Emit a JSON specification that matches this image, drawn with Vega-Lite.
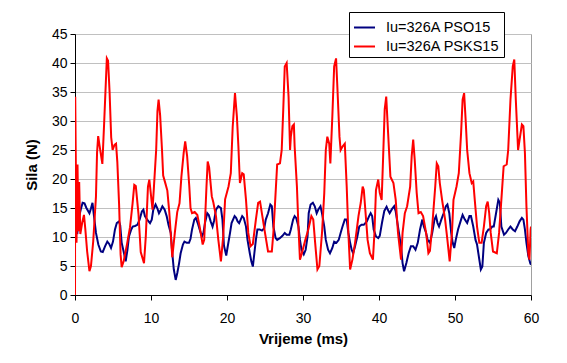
{
"$schema": "https://vega.github.io/schema/vega-lite/v6.json",
"width": 456, "height": 261,
"autosize": {"type": "none"},
"padding": {"left": 75, "top": 34, "right": 36, "bottom": 68},
"background": "white",
"config": {
 "font": "Liberation Sans",
 "view": {"stroke": "#a0a0a0", "strokeWidth": 1},
 "axis": {"domainColor": "black", "tickColor": "black", "labelColor": "black", "titleColor": "black", "labelFontSize": 14, "titleFontSize": 15, "titleFontWeight": "bold", "tickSize": 5, "gridColor": "#c0c0c0", "gridWidth": 1}
},
"datasets": {
 "blue": [
{"t":0.3,"v":10.5},{"t":0.45,"v":13},{"t":0.75,"v":14.7},{"t":1.0,"v":15.9},{"t":1.25,"v":15.8},{"t":1.5,"v":15},{"t":1.9,"v":14.1},{"t":2.1,"v":14.9},{"t":2.3,"v":15.9},{"t":2.5,"v":13.6},{"t":2.76,"v":10.7},{"t":3.07,"v":8.7},{"t":3.4,"v":7.5},{"t":3.65,"v":7.4},{"t":3.95,"v":8.4},{"t":4.25,"v":9.2},{"t":4.5,"v":8.8},{"t":4.74,"v":8.1},{"t":5.0,"v":9.2},{"t":5.26,"v":11.3},{"t":5.5,"v":12.4},{"t":5.8,"v":12.7},{"t":5.95,"v":12},{"t":6.14,"v":9},{"t":6.45,"v":7.2},{"t":6.67,"v":5.8},{"t":6.9,"v":7.8},{"t":7.1,"v":10.1},{"t":7.4,"v":11.3},{"t":7.6,"v":11.8},{"t":7.9,"v":11.9},{"t":8.2,"v":12.1},{"t":8.5,"v":13},{"t":8.8,"v":14.4},{"t":9.0,"v":14.7},{"t":9.2,"v":13.6},{"t":9.5,"v":13},{"t":9.87,"v":12.4},{"t":10.1,"v":13},{"t":10.3,"v":14.7},{"t":10.6,"v":15.6},{"t":10.85,"v":14.9},{"t":11.05,"v":14.1},{"t":11.3,"v":14.7},{"t":11.5,"v":15.3},{"t":11.8,"v":14.7},{"t":12.06,"v":13.6},{"t":12.3,"v":12.1},{"t":12.6,"v":10.7},{"t":12.8,"v":7.2},{"t":13.0,"v":4.4},{"t":13.25,"v":2.6},{"t":13.46,"v":3.8},{"t":13.7,"v":5.5},{"t":13.9,"v":7.2},{"t":14.2,"v":8.7},{"t":14.4,"v":9.2},{"t":14.7,"v":9},{"t":15.0,"v":9},{"t":15.2,"v":9.7},{"t":15.4,"v":11.3},{"t":15.7,"v":13},{"t":15.9,"v":13.3},{"t":16.15,"v":12.4},{"t":16.4,"v":11.3},{"t":16.7,"v":10.1},{"t":16.9,"v":10.7},{"t":17.1,"v":12.4},{"t":17.4,"v":14.1},{"t":17.6,"v":13.8},{"t":17.85,"v":12.7},{"t":18.1,"v":11.8},{"t":18.3,"v":12.8},{"t":18.55,"v":14.7},{"t":18.86,"v":15.3},{"t":19.2,"v":15},{"t":19.4,"v":13},{"t":19.6,"v":8.5},{"t":19.9,"v":6.8},{"t":20.1,"v":8.4},{"t":20.4,"v":10.7},{"t":20.6,"v":12.4},{"t":21.0,"v":13.6},{"t":21.2,"v":13.3},{"t":21.4,"v":12.7},{"t":21.6,"v":12.4},{"t":21.8,"v":13},{"t":22.0,"v":13.6},{"t":22.2,"v":13.3},{"t":22.5,"v":11.8},{"t":22.7,"v":9.5},{"t":23.0,"v":7.2},{"t":23.2,"v":5.8},{"t":23.4,"v":4.9},{"t":23.6,"v":7.2},{"t":23.8,"v":9.5},{"t":24.0,"v":11.3},{"t":24.3,"v":11.3},{"t":24.6,"v":11.1},{"t":24.9,"v":11.5},{"t":25.1,"v":13},{"t":25.4,"v":14.1},{"t":25.7,"v":15.6},{"t":25.9,"v":15.3},{"t":26.1,"v":11.8},{"t":26.4,"v":9.8},{"t":26.6,"v":9.5},{"t":26.95,"v":9.8},{"t":27.3,"v":10.2},{"t":27.6,"v":10.7},{"t":27.85,"v":10.4},{"t":28.2,"v":10.4},{"t":28.4,"v":11.3},{"t":28.7,"v":13},{"t":28.9,"v":13.6},{"t":29.1,"v":13.3},{"t":29.4,"v":11.8},{"t":29.6,"v":9.5},{"t":29.8,"v":7.8},{"t":30.1,"v":7},{"t":30.35,"v":7.8},{"t":30.6,"v":10.1},{"t":30.75,"v":14.1},{"t":31.0,"v":15.6},{"t":31.3,"v":15.9},{"t":31.55,"v":15.3},{"t":31.8,"v":14.1},{"t":32.0,"v":14.7},{"t":32.3,"v":15.3},{"t":32.5,"v":14.1},{"t":32.8,"v":11.8},{"t":33.0,"v":9.5},{"t":33.3,"v":7.8},{"t":33.55,"v":7.2},{"t":33.86,"v":8.1},{"t":34.1,"v":9.2},{"t":34.4,"v":9},{"t":34.7,"v":9.5},{"t":34.95,"v":10.7},{"t":35.2,"v":11.8},{"t":35.5,"v":13},{"t":35.75,"v":13},{"t":35.97,"v":10.7},{"t":36.2,"v":9},{"t":36.4,"v":7.8},{"t":36.6,"v":7.2},{"t":36.85,"v":8.4},{"t":37.15,"v":10.1},{"t":37.4,"v":11.8},{"t":37.7,"v":12.1},{"t":38.0,"v":12.1},{"t":38.4,"v":12.7},{"t":38.7,"v":13.6},{"t":38.9,"v":14.1},{"t":39.1,"v":13.6},{"t":39.3,"v":11.3},{"t":39.6,"v":10.1},{"t":39.9,"v":9.8},{"t":40.1,"v":10.2},{"t":40.4,"v":12.5},{"t":40.7,"v":14.5},{"t":41.0,"v":15.2},{"t":41.2,"v":14.6},{"t":41.4,"v":14.1},{"t":41.7,"v":14.8},{"t":42.0,"v":15.3},{"t":42.2,"v":14.4},{"t":42.5,"v":11.8},{"t":42.9,"v":8.4},{"t":43.1,"v":5.5},{"t":43.3,"v":4.1},{"t":43.6,"v":5.5},{"t":43.9,"v":7.2},{"t":44.2,"v":8.4},{"t":44.5,"v":8.4},{"t":44.8,"v":7.8},{"t":45.1,"v":9},{"t":45.4,"v":11.3},{"t":45.7,"v":13},{"t":45.9,"v":11.8},{"t":46.2,"v":10.7},{"t":46.4,"v":9.5},{"t":46.7,"v":9},{"t":47.0,"v":10.7},{"t":47.3,"v":13},{"t":47.5,"v":13.6},{"t":47.7,"v":12.4},{"t":47.9,"v":11.8},{"t":48.2,"v":13},{"t":48.5,"v":14.1},{"t":48.8,"v":15.3},{"t":49.0,"v":15.6},{"t":49.25,"v":14.1},{"t":49.5,"v":10.7},{"t":49.7,"v":9},{"t":49.9,"v":8.1},{"t":50.1,"v":9.5},{"t":50.4,"v":11.3},{"t":50.8,"v":13},{"t":51.0,"v":13.8},{"t":51.3,"v":13},{"t":51.6,"v":12.4},{"t":51.9,"v":13.6},{"t":52.1,"v":13.6},{"t":52.4,"v":11.8},{"t":52.7,"v":9.5},{"t":52.9,"v":8.7},{"t":53.2,"v":6.1},{"t":53.4,"v":4.4},{"t":53.6,"v":4.9},{"t":53.8,"v":9},{"t":54.1,"v":10.7},{"t":54.4,"v":11.3},{"t":54.6,"v":11.3},{"t":54.9,"v":11.8},{"t":55.1,"v":11.8},{"t":55.4,"v":14.1},{"t":55.7,"v":16.4},{"t":55.9,"v":15.9},{"t":56.1,"v":11.8},{"t":56.45,"v":10.4},{"t":56.7,"v":10.7},{"t":57.0,"v":11.3},{"t":57.3,"v":11.8},{"t":57.6,"v":11.3},{"t":57.9,"v":11},{"t":58.2,"v":11.8},{"t":58.5,"v":12.7},{"t":58.8,"v":13.3},{"t":59.0,"v":13},{"t":59.2,"v":11.3},{"t":59.4,"v":9},{"t":59.65,"v":6.7},{"t":59.9,"v":5.5},{"t":60,"v":5.2}
 ],
 "red": [
{"t":0,"v":0},{"t":0.03,"v":34.2},{"t":0.2,"v":9},{"t":0.33,"v":22.5},{"t":0.45,"v":11},{"t":0.55,"v":19.5},{"t":0.7,"v":10.5},{"t":0.95,"v":12.5},{"t":1.18,"v":13.8},{"t":1.35,"v":11.5},{"t":1.6,"v":7.5},{"t":1.9,"v":4.1},{"t":2.1,"v":5},{"t":2.4,"v":9.3},{"t":2.76,"v":17},{"t":2.9,"v":24.5},{"t":3.05,"v":27.4},{"t":3.2,"v":26},{"t":3.6,"v":22.6},{"t":3.85,"v":30.1},{"t":4.19,"v":40.8},{"t":4.35,"v":40.4},{"t":4.55,"v":35},{"t":4.76,"v":27.2},{"t":4.95,"v":25},{"t":5.2,"v":25.9},{"t":5.4,"v":26.1},{"t":5.57,"v":22.9},{"t":5.8,"v":15.7},{"t":6.0,"v":7},{"t":6.14,"v":4.8},{"t":6.4,"v":5.8},{"t":6.85,"v":8.8},{"t":7.24,"v":11.7},{"t":7.57,"v":15.7},{"t":7.8,"v":19},{"t":8.0,"v":18.8},{"t":8.35,"v":14},{"t":8.65,"v":7.4},{"t":9.08,"v":5.5},{"t":9.32,"v":10.2},{"t":9.6,"v":18.7},{"t":9.78,"v":19.9},{"t":10.2,"v":14.7},{"t":10.4,"v":18.9},{"t":10.68,"v":25},{"t":10.85,"v":31.7},{"t":11.0,"v":33.7},{"t":11.2,"v":31},{"t":11.45,"v":25},{"t":11.6,"v":20.6},{"t":11.9,"v":19.2},{"t":12.15,"v":18},{"t":12.4,"v":14.4},{"t":12.6,"v":10.5},{"t":12.8,"v":6.5},{"t":13.16,"v":11},{"t":13.45,"v":14.3},{"t":13.75,"v":15.8},{"t":14.0,"v":20.4},{"t":14.3,"v":24.5},{"t":14.5,"v":26.5},{"t":14.75,"v":24},{"t":15.04,"v":18.7},{"t":15.2,"v":15},{"t":15.4,"v":14.1},{"t":15.75,"v":14.3},{"t":16.1,"v":13.8},{"t":16.4,"v":11.8},{"t":16.8,"v":8.7},{"t":17.0,"v":9.5},{"t":17.3,"v":18.7},{"t":17.46,"v":23},{"t":17.65,"v":22},{"t":18.0,"v":17},{"t":18.2,"v":16},{"t":18.55,"v":13.6},{"t":18.86,"v":9.5},{"t":19.2,"v":5.8},{"t":19.5,"v":10.1},{"t":19.75,"v":16.5},{"t":20.2,"v":18.7},{"t":20.5,"v":21},{"t":20.75,"v":29},{"t":21.05,"v":34.8},{"t":21.3,"v":30.8},{"t":21.5,"v":25.6},{"t":21.7,"v":19.3},{"t":22.0,"v":21},{"t":22.2,"v":20.8},{"t":22.5,"v":16.4},{"t":22.8,"v":10.7},{"t":23.1,"v":8.4},{"t":23.4,"v":8.8},{"t":23.8,"v":13},{"t":24.1,"v":15.9},{"t":24.35,"v":16.1},{"t":24.65,"v":13.6},{"t":25.0,"v":10.7},{"t":25.4,"v":7.5},{"t":25.9,"v":7.5},{"t":26.1,"v":10.7},{"t":26.3,"v":15.3},{"t":26.6,"v":22.5},{"t":26.97,"v":22.7},{"t":27.2,"v":25},{"t":27.4,"v":31.9},{"t":27.6,"v":39.4},{"t":27.85,"v":40},{"t":28.1,"v":34.2},{"t":28.3,"v":25},{"t":28.4,"v":27.3},{"t":28.6,"v":29.1},{"t":28.8,"v":29.4},{"t":28.9,"v":25.6},{"t":29.2,"v":18.7},{"t":29.4,"v":11.8},{"t":29.6,"v":6.1},{"t":29.85,"v":7.2},{"t":30.3,"v":9.5},{"t":30.7,"v":11.3},{"t":31.1,"v":13.6},{"t":31.35,"v":13},{"t":31.6,"v":9},{"t":31.9,"v":4.4},{"t":32.15,"v":5},{"t":32.5,"v":10.7},{"t":32.8,"v":17.6},{"t":33.0,"v":25},{"t":33.2,"v":27.3},{"t":33.45,"v":26.1},{"t":33.6,"v":22.7},{"t":33.86,"v":30.8},{"t":34.1,"v":39.4},{"t":34.35,"v":40.8},{"t":34.5,"v":36.5},{"t":34.8,"v":27.3},{"t":34.95,"v":25},{"t":35.2,"v":25.6},{"t":35.5,"v":26.1},{"t":35.75,"v":18.7},{"t":35.97,"v":10.7},{"t":36.2,"v":4.4},{"t":36.5,"v":6.1},{"t":36.85,"v":9},{"t":37.3,"v":13.6},{"t":37.6,"v":15.9},{"t":37.85,"v":18.7},{"t":38.0,"v":18.1},{"t":38.3,"v":13},{"t":38.5,"v":9.5},{"t":38.8,"v":7.2},{"t":39.2,"v":6.1},{"t":39.4,"v":10.7},{"t":39.6,"v":18.1},{"t":39.9,"v":19.9},{"t":40.1,"v":17.6},{"t":40.35,"v":16.4},{"t":40.55,"v":24},{"t":40.75,"v":32},{"t":40.95,"v":34.2},{"t":41.2,"v":27.9},{"t":41.5,"v":20.4},{"t":41.9,"v":19.3},{"t":42.2,"v":16.4},{"t":42.5,"v":10.7},{"t":42.9,"v":6.1},{"t":43.1,"v":10.7},{"t":43.4,"v":14.1},{"t":43.7,"v":15.3},{"t":44.1,"v":18.7},{"t":44.3,"v":23.9},{"t":44.5,"v":26.8},{"t":44.7,"v":23.3},{"t":44.96,"v":17.6},{"t":45.2,"v":14.1},{"t":45.5,"v":14.3},{"t":45.8,"v":13.6},{"t":46.2,"v":10.7},{"t":46.5,"v":7.2},{"t":46.7,"v":7.6},{"t":47.0,"v":11.8},{"t":47.4,"v":18.7},{"t":47.6,"v":22.7},{"t":47.8,"v":22.2},{"t":48.0,"v":19.3},{"t":48.3,"v":16.4},{"t":48.7,"v":13},{"t":49.0,"v":9.5},{"t":49.3,"v":5.8},{"t":49.6,"v":10.7},{"t":49.8,"v":16.4},{"t":50.2,"v":18.7},{"t":50.5,"v":21},{"t":50.8,"v":27.9},{"t":51.0,"v":33.7},{"t":51.2,"v":34.8},{"t":51.4,"v":30.2},{"t":51.6,"v":25},{"t":51.9,"v":21},{"t":52.2,"v":19.3},{"t":52.4,"v":19.6},{"t":52.6,"v":16.4},{"t":52.9,"v":11.8},{"t":53.2,"v":9},{"t":53.5,"v":9},{"t":53.8,"v":11.8},{"t":54.1,"v":15.3},{"t":54.3,"v":16.1},{"t":54.5,"v":14.1},{"t":54.7,"v":10.7},{"t":55.0,"v":7.5},{"t":55.5,"v":7.2},{"t":55.8,"v":10.7},{"t":56.1,"v":16.4},{"t":56.4,"v":22.2},{"t":56.8,"v":22.5},{"t":57.0,"v":25},{"t":57.3,"v":33.7},{"t":57.6,"v":39.4},{"t":57.8,"v":40.6},{"t":58.0,"v":33.7},{"t":58.3,"v":25},{"t":58.5,"v":26.8},{"t":58.8,"v":29.4},{"t":59.0,"v":29.1},{"t":59.2,"v":24.5},{"t":59.4,"v":15.3},{"t":59.65,"v":7.2},{"t":59.8,"v":6.1},{"t":59.95,"v":11.3},{"t":60,"v":11.8}
 ]
},
"encoding": {
 "x": {"field": "t", "type": "quantitative", "scale": {"domain": [0, 60], "nice": false, "zero": false},
  "axis": {"title": "Vrijeme (ms)", "values": [0,10,20,30,40,50,60], "grid": false, "labelPadding": 11, "titlePadding": 6, "labelFlush": false}},
 "y": {"field": "v", "type": "quantitative", "scale": {"domain": [0, 45], "nice": false},
  "axis": {"title": "Sila (N)", "values": [0,5,10,15,20,25,30,35,40,45], "grid": true, "labelPadding": 3, "titlePadding": 12}}
},
"layer": [
 {"data": {"name": "blue"}, "mark": {"type": "line", "strokeWidth": 2, "clip": true},
  "encoding": {"color": {"datum": "Iu=326A PSO15", "type": "nominal",
   "scale": {"domain": ["Iu=326A PSO15", "Iu=326A PSKS15"], "range": ["#000080", "#ff0000"]},
   "legend": {"orient": "none", "legendX": 274, "legendY": -22, "title": null, "strokeColor": "black", "fillColor": "white", "padding": 4, "symbolType": "stroke", "symbolSize": 441, "symbolStrokeWidth": 2, "rowPadding": 1, "labelFontSize": 14.5, "labelOffset": 10, "labelColor": "black", "labelLimit": 300}}}},
 {"data": {"name": "red"}, "mark": {"type": "line", "strokeWidth": 2, "clip": true},
  "encoding": {"color": {"datum": "Iu=326A PSKS15", "type": "nominal"}}}
]
}
